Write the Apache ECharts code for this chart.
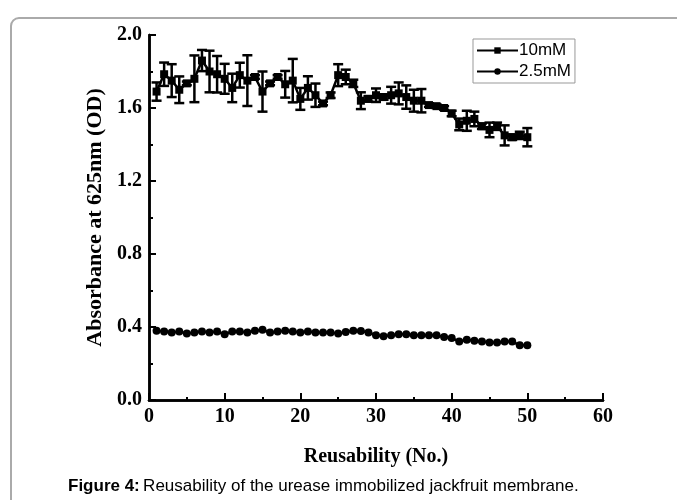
<!DOCTYPE html>
<html><head><meta charset="utf-8">
<script src="https://cdn.jsdelivr.net/npm/echarts@6/dist/echarts.min.js"></script>
<style>html,body{margin:0;padding:0;background:#fff}#c{width:677px;height:500px}</style>
</head><body><div id="c"></div>
<script>
var reuse = [1,2,3,4,5,6,7,8,9,10,11,12,13,14,15,16,17,18,19,20,21,22,23,24,25,26,27,28,29,30,31,32,33,34,35,36,37,38,39,40,41,42,43,44,45,46,47,48,49,50];
var od10 = [1.69,1.785,1.75,1.70,1.735,1.76,1.86,1.80,1.785,1.76,1.71,1.78,1.75,1.77,1.69,1.735,1.77,1.73,1.75,1.65,1.71,1.67,1.625,1.67,1.78,
            1.77,1.735,1.64,1.65,1.67,1.66,1.67,1.68,1.66,1.64,1.64,1.616,1.61,1.60,1.57,1.51,1.53,1.54,1.50,1.48,1.50,1.45,1.44,1.45,1.44];
var err10 = [0.05,0.064,0.09,0.073,0.01,0.128,0.058,0.114,0.10,0.082,0.078,0.068,0.139,0.01,0.11,0.01,0.01,0.073,0.119,0.06,0.064,0.064,0.01,0.015,0.06,
             0.04,0.02,0.046,0.015,0.037,0.015,0.046,0.06,0.064,0.06,0.064,0.01,0.01,0.01,0.015,0.032,0.055,0.04,0.015,0.04,0.02,0.055,0.015,0.02,0.05];
var od25 = [0.38,0.375,0.37,0.375,0.365,0.37,0.375,0.37,0.375,0.36,0.375,0.375,0.37,0.38,0.385,0.37,0.375,0.38,0.375,0.37,0.375,0.37,0.37,0.37,0.365,
            0.373,0.38,0.378,0.37,0.355,0.35,0.355,0.36,0.36,0.355,0.355,0.355,0.355,0.345,0.34,0.32,0.33,0.325,0.32,0.315,0.315,0.32,0.32,0.30,0.30];
var xTicks = [0,10,20,30,40,50,60];
var yTicks = [0.0,0.4,0.8,1.2,1.6,2.0];
var names = ['10mM','2.5mM'];
var caption = 'Reusability of the urease immobilized jackfruit membrane.';

var chart = echarts.init(document.getElementById('c'));
var serif = '"Liberation Serif","Times New Roman",serif';
var sans = '"Liberation Sans",Arial,sans-serif';
var errData = reuse.map(function(x,i){return [x, od10[i]-err10[i], od10[i]+err10[i]];});
var lineData10 = reuse.map(function(x,i){return [x, od10[i]];});
var lineData25 = reuse.map(function(x,i){return [x, od25[i]];});
var axisLine = {show:true, lineStyle:{color:'#000', width:2.5}};
chart.setOption({
  animation:false,
  grid:{left:149, right:74, top:35, bottom:100},
  xAxis:[{type:'value', min:xTicks[0], max:xTicks[xTicks.length-1], interval:10,
    axisLine:axisLine, axisTick:{inside:true, length:7, lineStyle:{color:'#000', width:2}},
    minorTick:{show:true, splitNumber:2, length:3, lineStyle:{color:'#000', width:2}},
    splitLine:{show:false},
    axisLabel:{color:'#000', fontFamily:serif, fontWeight:'bold', fontSize:20, margin:7},
    name:'Reusability (No.)', nameLocation:'middle', nameGap:47,
    nameTextStyle:{color:'#000', fontFamily:serif, fontWeight:'bold', fontSize:20}},
   {type:'value', position:'top', min:0, max:60, axisLine:axisLine, axisTick:{show:false}, axisLabel:{show:false}, splitLine:{show:false}}],
  yAxis:[{type:'value', min:yTicks[0], max:yTicks[yTicks.length-1], interval:0.4,
    axisLine:axisLine, axisTick:{inside:true, length:7, lineStyle:{color:'#000', width:2}},
    minorTick:{show:true, splitNumber:2, length:4, lineStyle:{color:'#000', width:2}},
    splitLine:{show:false},
    axisLabel:{color:'#000', fontFamily:serif, fontWeight:'bold', fontSize:20, margin:7, formatter:function(v){return v.toFixed(1);}},
    name:'Absorbance at 625nm (OD)', nameLocation:'middle', nameGap:43,
    nameTextStyle:{color:'#000', fontFamily:serif, fontWeight:'bold', fontSize:22}},
   {type:'value', position:'right', min:0, max:2, axisLine:axisLine, axisTick:{show:false}, axisLabel:{show:false}, splitLine:{show:false}}],
  legend:{data:names, left:473, top:39, orient:'vertical', itemWidth:41, itemHeight:8, itemGap:4,
    padding:[3,4,3,3], borderColor:'#999', borderWidth:1,
    textStyle:{color:'#000', fontFamily:sans, fontSize:17, padding:[0,0,0,-4]}},
  series:[
    {type:'custom', name:'err', silent:true, data:errData, z:3,
     renderItem:function(params, api){
       var x=api.value(0), lo=api.coord([x, api.value(1)]), hi=api.coord([x, api.value(2)]);
       var hw=5;
       var st={stroke:'#000', lineWidth:2.5};
       return {type:'group', children:[
         {type:'line', shape:{x1:lo[0],y1:lo[1],x2:hi[0],y2:hi[1]}, style:st},
         {type:'line', shape:{x1:lo[0]-hw,y1:lo[1],x2:lo[0]+hw,y2:lo[1]}, style:st},
         {type:'line', shape:{x1:hi[0]-hw,y1:hi[1],x2:hi[0]+hw,y2:hi[1]}, style:st}
       ]};
     }},
    {type:'line', name:names[0], data:lineData10, symbol:'rect', symbolSize:8, z:4,
     lineStyle:{color:'#000', width:2.5}, itemStyle:{color:'#000'}},
    {type:'line', name:names[1], data:lineData25, symbol:'circle', symbolSize:8, z:4,
     lineStyle:{color:'#000', width:2.5}, itemStyle:{color:'#000'}}
  ],
  graphic:[
    {type:'rect', shape:{x:11, y:18, width:700, height:500, r:8}, style:{fill:'none', stroke:'#aaa', lineWidth:2}, z:-1},
    {type:'text', left:68, top:478, style:{
      text:'{b|Figure 4:} {n|'+caption+'}',
      rich:{b:{fontFamily:sans, fontWeight:'bold', fontSize:17, fill:'#000'}, n:{fontFamily:sans, fontSize:17, fill:'#000'}}}}
  ]
});
</script></body></html>
